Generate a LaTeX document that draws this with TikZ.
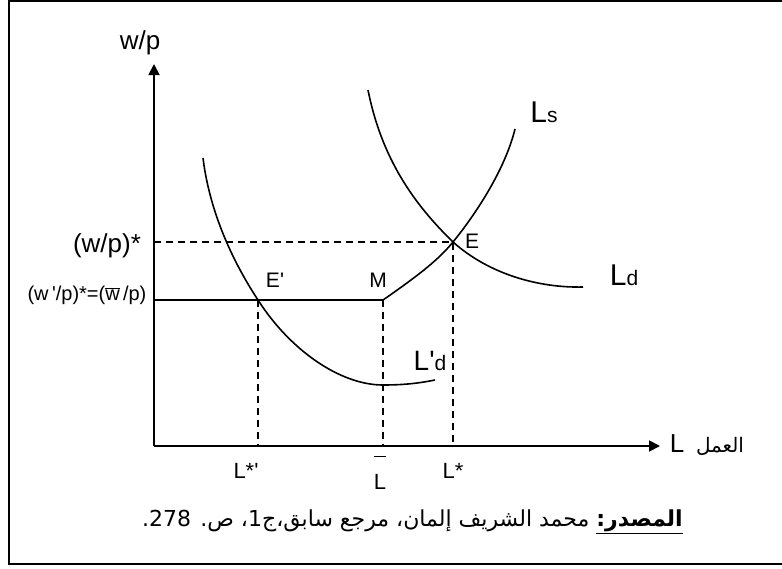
\documentclass[tikz,border=0pt]{standalone}
\usepackage{fontspec}
\setmainfont{Liberation Sans}
\newfontfamily\arabicfont[Script=Arabic]{DejaVu Sans}
\TeXXeTstate=1
\usetikzlibrary{arrows.meta, positioning, calc}

\newcommand{\fs}[1]{\fontsize{#1}{#1}\selectfont}
\newcommand{\pr}{\textquotesingle}

\tikzset{
  curve/.style={line width=1.6pt},
  guide/.style={line width=1.4pt, dash pattern=on 7pt off 5pt},
  axis/.style={line width=1.8pt, -{Triangle[length=11pt, width=11pt]}},
  lbl/.style={inner sep=0pt, anchor=base},
}

\begin{document}
\begin{tikzpicture}[x=1pt, y=-1pt]
    \useasboundingbox (0,0) rectangle (782,568);
    % frame (open on the right)
    \draw[line width=2.5pt] (782,1) -- (9,1) -- (9,564) -- (782,564);

    \coordinate (O) at (154,446);
    \coordinate (Ytop) at (154,64);
    \coordinate (Xend) at (660,446);
    \coordinate (E) at (453,242);
    \coordinate (Ep) at (258,300);
    \coordinate (M) at (383,300);
    \coordinate (Wstar) at (154,242);
    \coordinate (Wbar) at (154,300);
    \coordinate (Lstar) at (453,446);
    \coordinate (Lsp) at (258,446);
    \coordinate (Lbar) at (383,446);

    \draw[axis] (O) -- (Ytop);
    \draw[axis] (O) -- (Xend);

    \draw[guide] (Wstar) -- (E) -- (Lstar);
    \draw[guide] (Ep) -- (Lsp);
    \draw[guide] (M) -- (Lbar);
    \draw[curve] (Wbar) -- (M);

    % supply
    \draw[curve] (M) .. controls (422,273) and (440,258) .. (E)
        .. controls (475,215) and (505,170) .. (515,129);
    % demand
    \draw[curve] (368,90) .. controls (382,160) and (415,205) .. (E)
        .. controls (490,275) and (540,288) .. (583,287);
    % new demand
    \draw[curve] (203,158) .. controls (210,215) and (235,265) .. (Ep)
        .. controls (290,350) and (340,385) .. (383,385)
        .. controls (405,385) and (420,383) .. (435,380);

    % labels
    \node[lbl, font=\fs{26}] (wp) at (140,49) {w/p};
    \node[lbl, font=\fs{26}] (wstar) at (107,252) {(w/p)*};
    \node[lbl, font=\fs{20}] (wbar) at (87,300) {(w\,\pr/p)*=($\overline{\mbox{w}}$\,/p)};
    \node[lbl, font=\fs{21}] (Elab) at (472,248) {E};
    \node[lbl, font=\fs{21}] (Eplab) at (275,287) {E\pr};
    \node[lbl, font=\fs{21}] (Mlab) at (378,287) {M};
    \node[lbl] (Lslab) at (544,122) {\fs{30}L\fs{21}s};
    \node[lbl] (Ldlab) at (624,285) {\fs{30}L\fs{21}d};
    \node[lbl] (Lpdlab) at (430,370) {\fs{28}L\pr\fs{21}d};
    \node[lbl, font=\fs{22}] (Lsplab) at (246,478) {L*\pr};
    \node[lbl, font=\fs{22}] (Lbarlab) at (380,489) {$\overline{\rule{0pt}{31pt}\mbox{L}}$};
    \node[lbl, font=\fs{22}] (Lstarlab) at (453,478) {L*};
    \node[lbl, font=\fs{26}] (Laxis) at (677,452) {L};
    \node[lbl, font=\fs{20}\arabicfont] (amal) at (720,452) {\beginR العمل\endR};

    % source
    \node[lbl, anchor=base east, font=\fs{22}\arabicfont] (src) at (683,526)
        {\beginR\underline{\beginR\bfseries المصدر:\endR} محمد الشريف إلمان، مرجع سابق،ج\beginL 1\endL، ص. \beginL 278\endL.\endR};
\end{tikzpicture}
\end{document}
